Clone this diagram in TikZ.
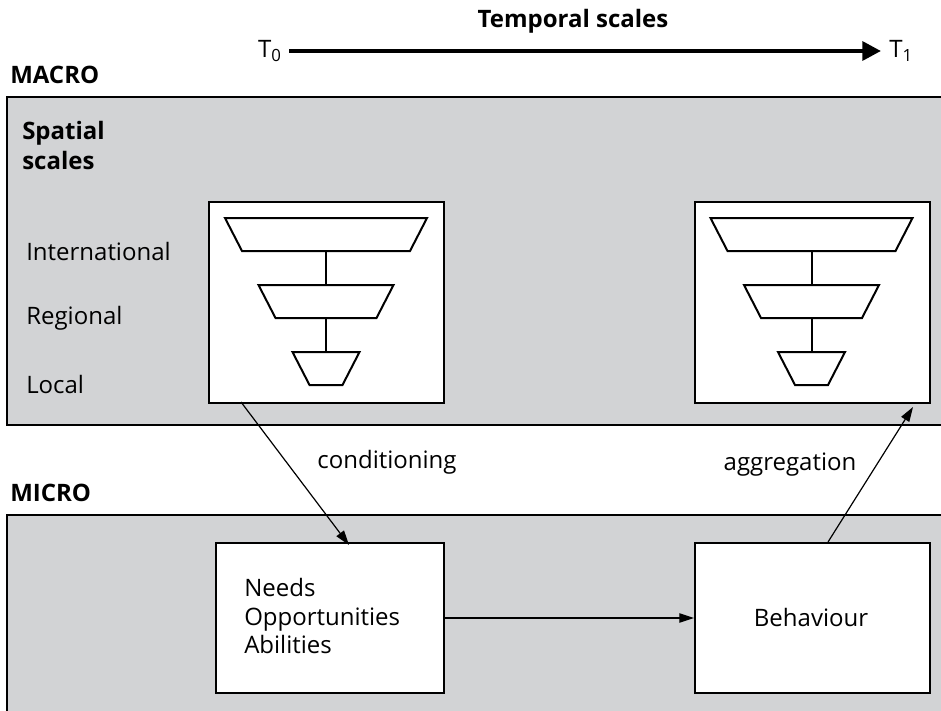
\documentclass[tikz,border=0pt]{standalone}
\usepackage{fontspec}
\setmainfont{Open Sans}
\usetikzlibrary{arrows.meta}
\definecolor{panelgray}{RGB}{210,211,213}
\tikzset{
  lbl/.style={font=\fontsize{18pt}{21.4pt}\selectfont, inner sep=0pt},
  blbl/.style={font=\bfseries\fontsize{18pt}{22.5pt}\selectfont, inner sep=0pt},
  panel/.style={draw=black, line width=2pt},
  whitebox/.style={fill=white, draw=black, line width=1.6pt},
  trap/.style={draw=black, line width=1.5pt, line join=miter},
  conn/.style={draw=black, line width=0.9pt, -{Triangle[length=11pt,width=7pt]}},
}
\begin{document}
\begin{tikzpicture}[x=0.75pt,y=-0.75pt]
\useasboundingbox (0,0) rectangle (941,710);
% panels
\fill[panelgray] (7,97) rectangle (950,425);
\draw[panel] (950,97) -- (7,97) -- (7,425) -- (950,425);
\fill[panelgray] (7,515) rectangle (950,720);
\draw[panel] (950,515) -- (7,515) -- (7,720);
% top
\node[blbl] (temporal) at (573,21) {Temporal scales};
\node[lbl, anchor=east] (t0) at (282,51) {T\textsubscript{0}};
\node[lbl, anchor=west] (t1) at (889,51) {T\textsubscript{1}};
\draw[line width=3.2pt, -{Triangle[length=14pt,width=14pt]}] (289,51) coordinate (ts) -- (881,51) coordinate (te);
\node[blbl, anchor=west] (macro) at (10,75) {MACRO};
\node[blbl, anchor=west] (micro) at (10,493) {MICRO};
\node[blbl, anchor=west, align=left] (spatial) at (22,145) {Spatial\\scales};
\node[lbl, anchor=west] (intl) at (26,251) {International};
\node[lbl, anchor=west] (reg) at (26,318) {Regional};
\node[lbl, anchor=west] (loc) at (26,384) {Local};
% macro boxes
\node[whitebox, minimum width=235*0.75pt, minimum height=201*0.75pt, anchor=north west] (boxL) at (208,201) {};
\node[whitebox, minimum width=235*0.75pt, minimum height=201*0.75pt, anchor=north west] (boxR) at (694,201) {};
\foreach \cx in {326,811.5} {
  \draw[trap] ({\cx-101},218) -- ({\cx+101},218) -- ({\cx+84},251) -- ({\cx-84},251) -- cycle;
  \draw[trap] ({\cx-67.5},285) -- ({\cx+67.5},285) -- ({\cx+50.5},318) -- ({\cx-50.5},318) -- cycle;
  \draw[trap] ({\cx-33.5},352) -- ({\cx+33.5},352) -- ({\cx+16.5},385) -- ({\cx-16.5},385) -- cycle;
  \draw[trap] (\cx,251) -- (\cx,285);
  \draw[trap] (\cx,318) -- (\cx,352);
}
% micro boxes
\node[whitebox, minimum width=228*0.75pt, minimum height=150*0.75pt, anchor=north west] (needs) at (215,542) {};
\node[whitebox, minimum width=235*0.75pt, minimum height=150*0.75pt, anchor=north west] (beh) at (694,542) {};
\node[lbl, anchor=west, align=left] (nt) at (244,616) {Needs\\Opportunities\\Abilities};
\node[lbl] (bt) at (811,617) {Behaviour};
% connectors
\draw[conn] (241,402) -- (349,545);
\draw[conn] (needs.east |- 0,618) -- (beh.west |- 0,618);
\draw[conn] (828,542) -- (913,407);
\node[lbl] (cond) at (387,462) {conditioning};
\node[lbl] (aggr) at (790,465) {aggregation};
\end{tikzpicture}
\end{document}
